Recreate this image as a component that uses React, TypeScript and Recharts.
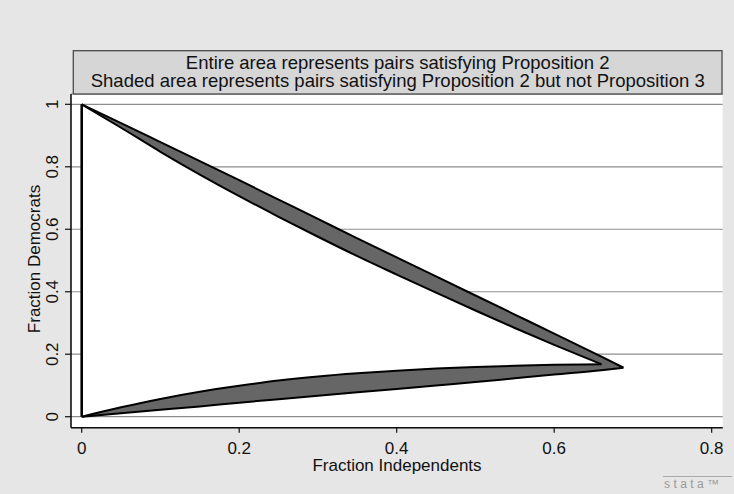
import React from 'react';
import { ComposedChart, Area, XAxis, YAxis, CartesianGrid, ReferenceLine } from 'recharts';

// Outer boundary (entire area satisfying Proposition 2)
const xValues = [0, 0.05, 0.1, 0.15, 0.2, 0.25, 0.3, 0.35, 0.4, 0.45, 0.5, 0.55, 0.6, 0.66, 0.688];
const upperOuter = [1.0, 0.94, 0.879, 0.818, 0.757, 0.695, 0.633, 0.571, 0.51, 0.449, 0.388, 0.327, 0.266, 0.192, 0.157];
const lowerOuter = [0, 0.011, 0.022, 0.033, 0.045, 0.056, 0.067, 0.078, 0.089, 0.1, 0.111, 0.123, 0.135, 0.149, 0.157];

// Inner boundary (area satisfying Proposition 3 as well, unshaded)
const innerX = [0, 0.05, 0.1, 0.15, 0.2, 0.25, 0.3, 0.35, 0.4, 0.45, 0.5, 0.55, 0.6, 0.66];
const upperInner = [1.0, 0.925, 0.848, 0.775, 0.706, 0.64, 0.576, 0.514, 0.455, 0.397, 0.34, 0.284, 0.23, 0.168];
const lowerInner = [0, 0.03, 0.057, 0.08, 0.099, 0.116, 0.129, 0.139, 0.147, 0.154, 0.159, 0.163, 0.166, 0.168];

const xTicks = [0, 0.2, 0.4, 0.6, 0.8];
const yTicks = [0, 0.2, 0.4, 0.6, 0.8, 1];
const titleLines = [
  'Entire area represents pairs satisfying Proposition 2',
  'Shaded area represents pairs satisfying Proposition 2 but not Proposition 3',
];
const xTitle = 'Fraction Independents';
const yTitle = 'Fraction Democrats';

const outerData = xValues.map((x, i) => ({ x, range: [lowerOuter[i], upperOuter[i]] }));
const innerData = innerX.map((x, i) => ({ x, range: [lowerInner[i], upperInner[i]] }));

const FONT = '"Liberation Sans", Arial, Helvetica, sans-serif';

const YTick = (props: any) => {
  const { y, payload } = props;
  const bx = 57.8;
  return (
    <text
      x={bx}
      y={y}
      transform={`rotate(-90, ${bx}, ${y})`}
      textAnchor="middle"
      fontSize={17}
      fontFamily={FONT}
      fill="#111"
    >
      {String(payload.value)}
    </text>
  );
};

const XTick = (props: any) => {
  const { x, payload } = props;
  return (
    <text x={x} y={454} textAnchor="middle" fontSize={17} fontFamily={FONT} fill="#111">
      {String(payload.value)}
    </text>
  );
};

export default function App() {
  return (
    <div
      style={{
        position: 'absolute',
        left: 0,
        top: 0,
        width: 734,
        height: 494,
        background: '#e6e6e6',
        overflow: 'hidden',
      }}
    >
      <ComposedChart
        width={734}
        height={494}
        data={outerData}
        margin={{ top: 94, right: 11.3, bottom: 26.3, left: 0 }}
      >
        <CartesianGrid vertical={false} horizontal stroke="#8e8e8e" strokeWidth={1.2} fill="#ffffff" />
        <XAxis
          type="number"
          dataKey="x"
          domain={[-0.0136, 0.814]}
          allowDataOverflow
          ticks={xTicks}
          height={40}
          tickSize={5}
          tick={<XTick />}
          axisLine={{ stroke: '#111', strokeWidth: 1.6 }}
          tickLine={{ stroke: '#111', strokeWidth: 1.2 }}
        />
        <YAxis
          type="number"
          domain={[-0.0352, 1.033]}
          allowDataOverflow
          ticks={yTicks}
          width={71}
          tickSize={6}
          tick={<YTick />}
          axisLine={{ stroke: '#111', strokeWidth: 1.6 }}
          tickLine={{ stroke: '#111', strokeWidth: 1.2 }}
        />
        <Area
          dataKey="range"
          type="monotone"
          fill="#666666"
          fillOpacity={1}
          stroke="#000"
          strokeWidth={2}
          dot={false}
          activeDot={false}
          isAnimationActive={false}
        />
        <Area
          data={innerData}
          dataKey="range"
          type="monotone"
          fill="#ffffff"
          fillOpacity={1}
          stroke="#000"
          strokeWidth={2}
          dot={false}
          activeDot={false}
          isAnimationActive={false}
        />
        <ReferenceLine
          segment={[
            { x: 0, y: 0 },
            { x: 0, y: 1 },
          ]}
          stroke="#000"
          strokeWidth={2.6}
        />
      </ComposedChart>
      <svg
        width={734}
        height={494}
        style={{ position: 'absolute', left: 0, top: 0, pointerEvents: 'none' }}
      >
        <rect x={73.3} y={50.7} width={648.7} height={43.3} fill="#d6d6d6" stroke="#4a4a4a" strokeWidth={1.3} />
        <text x={397.7} y={69} textAnchor="middle" fontSize={18.5} fontFamily={FONT} fill="#111">
          {titleLines[0]}
        </text>
        <text x={397.7} y={87.3} textAnchor="middle" fontSize={18.5} fontFamily={FONT} fill="#111">
          {titleLines[1]}
        </text>
        <text x={397} y={471} textAnchor="middle" fontSize={17} fontFamily={FONT} fill="#111">
          {xTitle}
        </text>
        <text
          x={39.5}
          y={259}
          transform="rotate(-90, 39.5, 259)"
          textAnchor="middle"
          fontSize={17}
          fontFamily={FONT}
          fill="#111"
        >
          {yTitle}
        </text>
        <line x1={663} y1={476.5} x2={732} y2={476.5} stroke="#a8a8a8" strokeWidth={1} />
        <text x={664} y={487.5} fontSize={12} letterSpacing={3.4} fontFamily={FONT} fill="#9a9a9a">
          {'stata\u2122'}
        </text>
      </svg>
    </div>
  );
}
